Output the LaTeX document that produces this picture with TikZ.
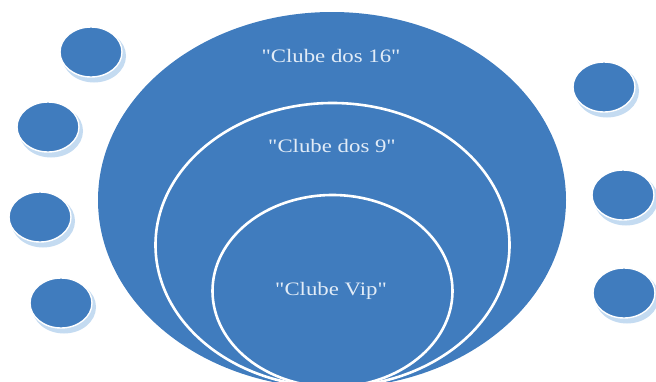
\documentclass[tikz,border=0pt]{standalone}
\usepackage{fontspec}
\setmainfont{Liberation Serif}
\usepackage{xcolor}
\usepackage{tikz}
\usetikzlibrary{shapes.geometric,positioning}
\definecolor{clubblue}{RGB}{64,124,190}
\definecolor{clubtext}{RGB}{226,236,247}
\definecolor{clubshade}{RGB}{196,219,241}
\tikzset{
  ring/.style={
    ellipse,
    fill=clubblue,
    inner sep=0pt
  },
  club/.style={ring, draw=white, line width=2.6pt},
  dot/.style={ring, draw=white, line width=1.4pt, minimum width=62pt, minimum height=50pt},
  shade/.style={ellipse, fill=clubshade, inner sep=0pt, minimum width=64pt, minimum height=53pt},
  clubname/.style={text=clubtext, inner sep=1pt, font=\fontsize{19}{22}\selectfont}
}
\newcommand{\wide}[1]{\scalebox{1.2}[1]{\textquotedbl#1\textquotedbl}}

\begin{document}
\begin{tikzpicture}[x=1pt, y=-1pt]
    \useasboundingbox (0,0) rectangle (656,381);
    \clip (0,0) rectangle (656,381);

    % nested clubs
    \node[ring, minimum width=468pt, minimum height=376pt] (big) at (332,200) {};
    \node[club, minimum width=354pt, minimum height=284pt] (mid) at (332.5,245) {};
    \node[club, minimum width=240pt, minimum height=192pt] (vip) at (332.5,291) {};

    \node[clubname] (t16) at (331,56) {\wide{Clube dos 16}};
    \node[clubname] (t9) at (332,146) {\wide{Clube dos 9}};
    \node[clubname] (tvip) at (331,291) {\wide{Clube Vip}};

    % small circles round the clubs
    \foreach \nm/\cx/\cy in {l1/91/52, l2/48/127, l3/40/217, l4/61/303,
                             r1/604/87, r2/623/195, r3/624/293} {
      \node[shade] (\nm s) at (\cx+3,\cy+4) {};
      \node[dot] (\nm) at (\cx,\cy) {};
    }
  \end{tikzpicture}
\end{document}
